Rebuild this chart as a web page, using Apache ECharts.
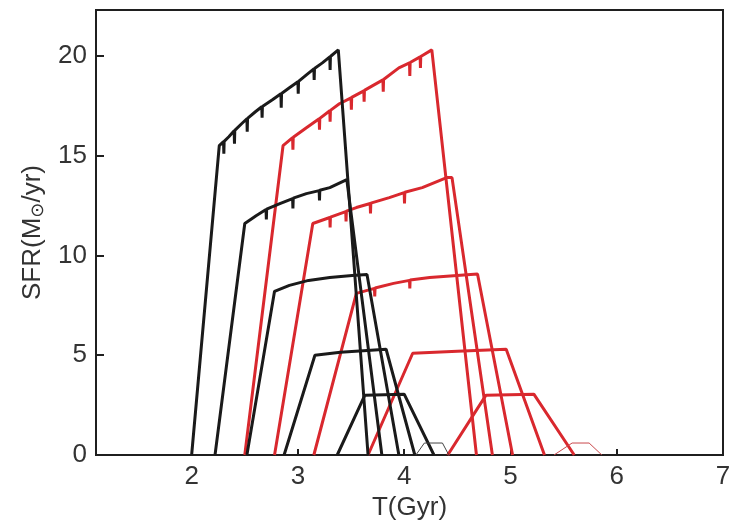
<!DOCTYPE html>
<html>
<head>
<meta charset="utf-8">
<title>SFR vs T</title>
<script src="https://cdn.jsdelivr.net/npm/echarts@6/dist/echarts.min.js"></script>
<style>
  html, body { margin: 0; padding: 0; background: #fff; }
  #chart { width: 741px; height: 523px; }
</style>
</head>
<body>
<div id="chart"></div>
<script>
// tick labels
const xTickValues = [2, 3, 4, 5, 6, 7];
const yTickValues = [0, 5, 10, 15, 20];

// black tracks [T (Gyr), SFR]
const black1 = [
  [2.0, 0], [2.26, 15.5], [2.30, 15.7], [2.303, 15.1], [2.306, 15.72], [2.35, 15.95],
  [2.40, 16.25], [2.403, 15.6], [2.406, 16.27], [2.47, 16.6], [2.52, 16.85], [2.523, 16.2],
  [2.526, 16.87], [2.6, 17.2], [2.66, 17.45], [2.663, 16.9], [2.666, 17.47], [2.76, 17.8],
  [2.84, 18.1], [2.843, 17.4], [2.846, 18.12], [2.92, 18.4], [3.0, 18.7], [3.003, 18.1],
  [3.006, 18.72], [3.08, 19.05], [3.15, 19.35], [3.153, 18.8], [3.156, 19.37], [3.23, 19.65],
  [3.30, 19.95], [3.303, 19.3], [3.306, 19.97], [3.38, 20.3], [3.66, 0]
];
const black2 = [
  [2.22, 0], [2.5, 11.6], [2.61, 12.0], [2.70, 12.3], [2.703, 11.8], [2.706, 12.32],
  [2.83, 12.6], [2.95, 12.85], [2.953, 12.35], [2.956, 12.87], [3.08, 13.1], [3.20, 13.25],
  [3.203, 12.75], [3.206, 13.27], [3.3, 13.4], [3.46, 13.8], [3.79, 0]
];
const black3 = [
  [2.52, 0], [2.78, 8.2], [2.92, 8.5], [3.1, 8.75], [3.3, 8.9], [3.51, 9.0], [3.65, 9.05], [3.95, 0]
];
const black4 = [[2.87, 0], [3.16, 5.0], [3.4, 5.15], [3.83, 5.3], [4.1, 0]];
const black5 = [[3.37, 0], [3.63, 3.0], [4.0, 3.05], [4.28, 0]];
const black6 = [[4.11, 0], [4.19, 0.6], [4.36, 0.6], [4.42, 0]];

// red tracks [T (Gyr), SFR]
const red1 = [
  [2.5, 0], [2.86, 15.5], [2.95, 15.9], [2.953, 15.3], [2.956, 15.92], [3.08, 16.4],
  [3.20, 16.85], [3.203, 16.3], [3.206, 16.87], [3.30, 17.25], [3.303, 16.7], [3.306, 17.27],
  [3.39, 17.6], [3.50, 17.9], [3.503, 17.3], [3.506, 17.92], [3.62, 18.25], [3.623, 17.7],
  [3.626, 18.27], [3.7, 18.5], [3.80, 18.8], [3.803, 18.2], [3.806, 18.82], [3.95, 19.4],
  [4.05, 19.65], [4.053, 19.0], [4.056, 19.67], [4.15, 19.95], [4.153, 19.4], [4.156, 19.97],
  [4.26, 20.3], [4.68, 0]
];
const red2 = [
  [2.78, 0], [3.14, 11.6], [3.30, 11.9], [3.303, 11.4], [3.306, 11.92], [3.45, 12.2],
  [3.453, 11.7], [3.456, 12.22], [3.55, 12.4], [3.68, 12.6], [3.683, 12.1], [3.686, 12.62],
  [3.86, 12.9], [4.0, 13.15], [4.003, 12.6], [4.006, 13.17], [4.17, 13.4], [4.4, 13.9],
  [4.45, 13.9], [4.83, 0]
];
const red3 = [
  [3.15, 0], [3.55, 8.1], [3.72, 8.35], [3.723, 7.95], [3.726, 8.37], [3.9, 8.6], [4.05, 8.75],
  [4.053, 8.35], [4.056, 8.77], [4.24, 8.9], [4.69, 9.07], [5.02, 0]
];
const red4 = [[3.66, 0], [4.08, 5.1], [4.5, 5.2], [4.96, 5.3], [5.32, 0]];
const red5 = [[4.41, 0], [4.77, 3.0], [5.22, 3.05], [5.6, 0]];
const red6 = [[5.41, 0], [5.58, 0.6], [5.74, 0.6], [5.86, 0]];

const BLACK = '#1a1a1a';
const RED = '#d9282e';
const FONT = '"Liberation Sans", Arial, sans-serif';

function track(data, color, width) {
  return {
    type: 'line',
    data: data,
    symbol: 'none',
    smooth: false,
    lineStyle: { color: color, width: width },
    silent: true
  };
}

const chart = echarts.init(document.getElementById('chart'));

chart.setOption({
  animation: false,
  backgroundColor: '#fff',
  grid: {
    left: 96,
    right: 18,
    top: 10,
    bottom: 68,
    outerBoundsMode: 'none',
    show: true,
    borderColor: '#1f1f1f',
    borderWidth: 2
  },
  xAxis: {
    type: 'value',
    min: 1.1,
    max: 7,
    name: 'T(Gyr)',
    nameLocation: 'middle',
    nameGap: 40,
    nameTextStyle: { color: '#333', fontSize: 26, fontFamily: FONT },
    axisLine: { show: true, lineStyle: { color: '#1f1f1f', width: 2 } },
    axisTick: {
      show: true,
      inside: true,
      length: 6,
      customValues: [2, 3, 4, 5, 6],
      lineStyle: { color: '#1f1f1f', width: 2 }
    },
    axisLabel: {
      customValues: xTickValues,
      color: '#333',
      fontSize: 26,
      fontFamily: FONT,
      margin: 9
    },
    splitLine: { show: false }
  },
  yAxis: {
    type: 'value',
    min: 0,
    max: 22.3,
    name: '{a|SFR(M}{s|⊙}{a|/yr)}',
    nameLocation: 'middle',
    nameRotate: 90,
    nameGap: 48,
    nameTextStyle: {
      rich: {
        a: { color: '#333', fontSize: 26, fontFamily: FONT },
        s: { color: '#333', fontSize: 18, fontFamily: 'DejaVu Sans', padding: [10, 0, 0, 0] }
      }
    },
    axisLine: { show: true, lineStyle: { color: '#1f1f1f', width: 2 } },
    axisTick: {
      show: true,
      inside: true,
      length: 8,
      customValues: [5, 10, 15, 20],
      lineStyle: { color: '#1f1f1f', width: 2 }
    },
    axisLabel: {
      customValues: yTickValues,
      color: '#333',
      fontSize: 26,
      fontFamily: FONT,
      margin: 9
    },
    splitLine: { show: false }
  },
  series: [
    track(red1, RED, 3),
    track(red2, RED, 3),
    track(red3, RED, 3),
    track(red4, RED, 3),
    track(red5, RED, 3),
    track(red6, '#c9484c', 1),
    track(black1, BLACK, 3),
    track(black2, BLACK, 3),
    track(black3, BLACK, 3),
    track(black4, BLACK, 3),
    track(black5, BLACK, 3),
    track(black6, '#444', 1)
  ]
});
</script>
</body>
</html>
